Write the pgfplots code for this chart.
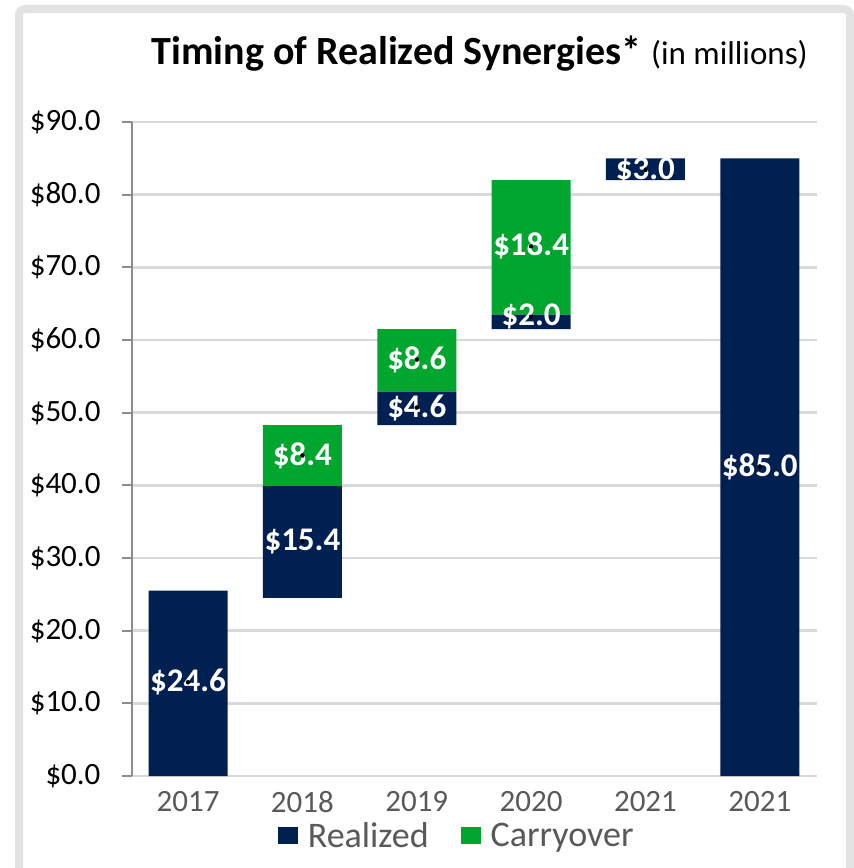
\documentclass[border=0pt]{standalone}
\usepackage{fontspec}
\setmainfont{Carlito}
\usepackage{pgfplots}
\usepackage{pgfplotstable}
\pgfplotsset{compat=1.18}
\definecolor{navy}{HTML}{002052}
\definecolor{grn}{HTML}{00A62E}
\definecolor{gridc}{HTML}{D9D9D9}
\definecolor{axc}{HTML}{8C8C8C}
\definecolor{txtg}{HTML}{595959}
\definecolor{framec}{HTML}{E3E3E3}

\pgfplotstableread{
x base realized carry
0 0 25.5 0
1 24.5 15.4 8.4
2 48.3 4.6 8.6
3 61.5 2.0 18.5
4 82.0 3.0 0
5 0 85.0 0
}\bars

\pgfplotstableread{
x y label
0 12.9 24.6
1 32.3 15.4
1 44.1 8.4
2 50.7 4.6
2 57.3 8.6
3 63.2 2.0
3 72.9 18.4
4 83.4 3.0
5 42.6 85.0
}\labels

\pgfplotsset{
  common/.style={
    scale only axis,
    width=685pt, height=654pt,
    at={(132pt,92pt)}, anchor=south west,
    xmin=-0.49, xmax=5.5,
    ymin=0, ymax=90,
  }
}

\begin{document}
\begin{tikzpicture}
\useasboundingbox (0,0) rectangle (854pt,868pt);
\fill[white] (0,0) rectangle (854pt,868pt);
\draw[framec, line width=8pt, rounded corners=6pt] (19pt,-6pt) rectangle (850pt,859pt);

\node[anchor=base east, inner sep=0pt] at (808pt,803pt)
  {{\fontsize{40}{48}\selectfont\bfseries Timing of Realized Synergies*}\hspace{10pt}{\fontsize{33}{40}\selectfont (in millions)}};

\begin{axis}[common,
  ybar stacked, bar width=79pt,
  axis lines*=left,
  x axis line style={draw=none},
  y axis line style={axc, line width=2pt},
  ytick={0,10,...,90},
  ymajorgrids, grid style={gridc, line width=2.5pt},
  tick align=outside, major tick length=10pt,
  ytick style={axc, line width=2pt},
  xtick style={draw=none},
  xtick={0,...,5},
  xticklabels={2017,2018,2019,2020,2021,2021},
  /pgf/number format/assume math mode=true,
  yticklabel={\$\pgfmathprintnumber[fixed, fixed zerofill, precision=1]{\tick}},
  yticklabel style={font=\fontsize{31}{37}\selectfont, black, xshift=-18pt},
  xticklabel style={font=\fontsize{31}{37}\selectfont, txtg, yshift=-2pt},
  legend columns=2,
  legend style={at={(0.474,-0.091)}, anchor=center, draw=none, fill=none,
    font=\fontsize{36}{42}\selectfont, text=txtg,
    /tikz/every even column/.append style={column sep=30pt}},
  legend image code/.code={\fill[#1] (0pt,-8.5pt) rectangle (20pt,8.5pt); \path (28pt,0pt);},
]
\addplot[fill=none, draw=none, forget plot] table[x=x, y=base] {\bars};
\addplot[fill=navy, draw=none] table[x=x, y=realized] {\bars};
\addplot[fill=grn, draw=none] table[x=x, y=carry] {\bars};
\legend{Realized, Carryover}
\end{axis}

\begin{axis}[common, hide axis]
\addplot[scatter, only marks, point meta=explicit symbolic,
  scatter/@pre marker code/.code={\node[white, font=\fontsize{33}{40}\selectfont\bfseries, inner sep=0pt] {\$\pgfplotspointmeta};},
  scatter/@post marker code/.code={}]
  table[x=x, y=y, meta=label] {\labels};
\end{axis}
\end{tikzpicture}
\end{document}
